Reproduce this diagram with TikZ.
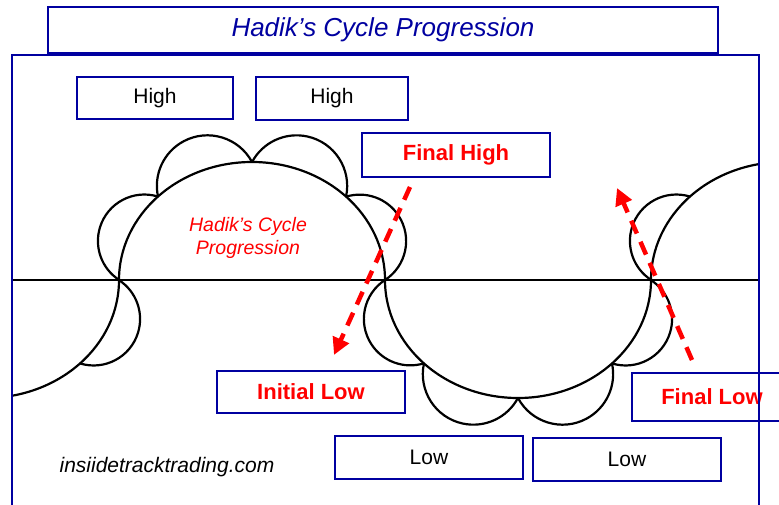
\documentclass[tikz,border=0pt]{standalone}
\usepackage{fontspec}
\setmainfont{Liberation Sans}
\usetikzlibrary{arrows.meta}
\definecolor{frameblue}{RGB}{0,0,160}
\definecolor{markred}{RGB}{255,0,0}
\begin{document}
\begin{tikzpicture}[x=1pt,y=1pt,
  box/.style={draw=frameblue,line width=2.8pt,inner sep=0pt,minimum width=188pt,minimum height=43pt},
  plainlabel/.style={font=\fontsize{21}{25}\selectfont},
  redlabel/.style={text=markred,font=\fontsize{22}{26}\selectfont\bfseries},
  wave/.style={draw=black,line width=2.2pt},
  redarrow/.style={draw=markred,line width=4.5pt,dash pattern=on 14pt off 9pt,-{Triangle[length=17pt,width=17pt]}}]
  \useasboundingbox (0,0) rectangle (779,504);

  \begin{scope}
    \clip (12,0) rectangle (759,449);
    \draw[line width=1.4pt] (12,224) -- (759,224);
    \draw[wave] (-147,224) arc[start angle=180,end angle=360,x radius=133pt,y radius=118pt]
      arc[start angle=180,end angle=0,x radius=133pt,y radius=118pt]
      arc[start angle=180,end angle=360,x radius=133pt,y radius=118pt]
      arc[start angle=180,end angle=0,x radius=133pt,y radius=118pt];
    \def\sw{164}
    \foreach \cx/\ta in {252/0,252/45,252/90,252/135,518/180,518/225,518/270,518/315,-14/315,784/135} {
      \pgfmathsetmacro\xa{\cx+133*cos(\ta)}
      \pgfmathsetmacro\ya{224+118*sin(\ta)}
      \pgfmathsetmacro\xb{\cx+133*cos(\ta+45)}
      \pgfmathsetmacro\yb{224+118*sin(\ta+45)}
      \pgfmathsetmacro\ph{atan2(\yb-\ya,\xb-\xa)}
      \pgfmathsetmacro\rr{veclen(\xb-\xa,\yb-\ya)/2/sin(\sw/2)}
      \draw[wave] (\xa,\ya) arc[start angle=\ph+270-\sw/2,end angle=\ph+270+\sw/2,radius=\rr pt];
    }
  \end{scope}

  \node[text=markred,align=center,font=\fontsize{19.5}{23}\selectfont\itshape] (inner) at (248,266) {Hadik’s Cycle\\Progression};
  \node[font=\fontsize{21}{25}\selectfont\itshape] (url) at (167,37) {insiidetracktrading.com};

  \node[box,minimum width=670pt,minimum height=46pt,text=frameblue,font=\fontsize{26}{30}\selectfont\itshape] (T) at (383,474) {Hadik’s Cycle Progression};
  \node[box,plainlabel,minimum width=156pt,minimum height=42pt] (H1) at (155,406) {High};
  \node[box,plainlabel,minimum width=152pt] (H2) at (332,405.5) {High};
  \node[box,redlabel,minimum height=44pt] (FH) at (456,349) {Final High};
  \node[box,redlabel,minimum height=42pt] (IL) at (311,112) {Initial Low};
  \node[box,redlabel,minimum width=160pt,minimum height=48pt] (FL) at (712,107) {Final Low};
  \node[box,plainlabel] (L1) at (429,46.5) {Low};
  \node[box,plainlabel] (L2) at (627,44.5) {Low};

  \coordinate (fhs) at (410,317);
  \coordinate (ilt) at (334,149);
  \coordinate (fls) at (692,144);
  \coordinate (fht) at (617,316);

  \path (fhs) edge[redarrow] (ilt);
  \path (fls) edge[redarrow] (fht);

  \draw[frameblue,line width=2.8pt] (12,-20) rectangle (759,449);
\end{tikzpicture}
\end{document}
